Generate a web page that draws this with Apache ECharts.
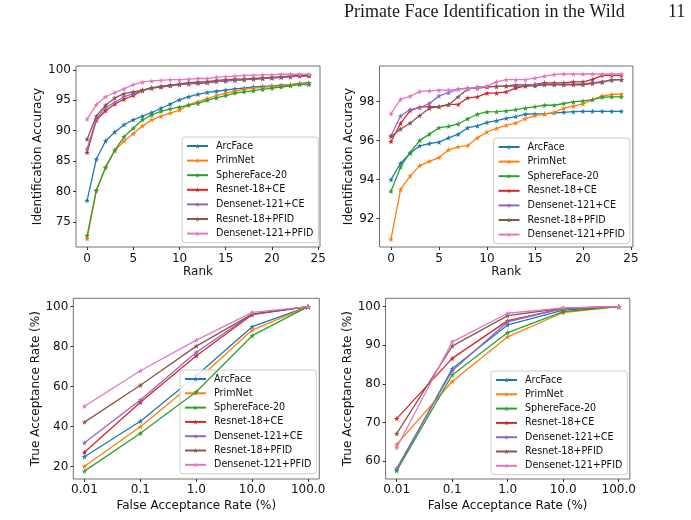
<!DOCTYPE html>
<html>
<head>
<meta charset="utf-8">
<script src="https://cdn.jsdelivr.net/npm/echarts@6/dist/echarts.min.js"></script>
<style>
  html, body { margin: 0; padding: 0; background: #fff; }
  #myChart { width: 691px; height: 520px; }
</style>
</head>
<body>
<div id="myChart"></div>
<script>
// ---- data ----
var methods = ['ArcFace', 'PrimNet', 'SphereFace-20', 'Resnet-18+CE', 'Densenet-121+CE', 'Resnet-18+PFID', 'Densenet-121+PFID'];
var colors = ['#1f77b4', '#ff7f0e', '#2ca02c', '#d62728', '#9467bd', '#8c564b', '#e377c2'];

var ranks = [0, 1, 2, 3, 4, 5, 6, 7, 8, 9, 10, 11, 12, 13, 14, 15, 16, 17, 18, 19, 20, 21, 22, 23, 24];
var farValues = [0.01, 0.1, 1, 10, 100];

// top-left: identification accuracy vs rank (one row per method, same order as methods)
var accLeft = [
  [78.5, 85.3, 88.3, 89.8, 91.0, 91.8, 92.4, 93.0, 93.7, 94.4, 95.1, 95.6, 96.0, 96.3, 96.5, 96.7, 96.9, 97.0, 97.2, 97.3, 97.4, 97.5, 97.6, 97.8, 97.9],
  [72.2, 80.1, 83.9, 86.7, 88.3, 89.5, 90.8, 91.8, 92.4, 92.9, 93.4, 94.3, 94.8, 95.3, 95.8, 96.2, 96.5, 96.8, 97.0, 97.1, 97.3, 97.4, 97.6, 97.7, 97.7],
  [72.7, 80.2, 84.0, 86.8, 89.0, 90.4, 91.8, 92.6, 93.2, 93.6, 93.9, 94.2, 94.5, 95.0, 95.4, 95.8, 96.2, 96.4, 96.6, 96.8, 97.0, 97.2, 97.4, 97.6, 97.6],
  [86.4, 91.7, 93.3, 94.4, 95.2, 95.8, 96.6, 97.0, 97.2, 97.4, 97.6, 97.7, 97.8, 97.9, 98.1, 98.2, 98.3, 98.4, 98.5, 98.6, 98.7, 98.8, 98.9, 99.0, 99.0],
  [87.0, 91.9, 93.8, 94.7, 95.6, 96.1, 96.7, 97.0, 97.3, 97.5, 97.6, 97.8, 97.9, 98.0, 98.1, 98.2, 98.3, 98.4, 98.5, 98.6, 98.7, 98.8, 98.9, 99.0, 99.1],
  [88.6, 92.4, 94.2, 95.4, 96.1, 96.4, 96.7, 97.1, 97.3, 97.5, 97.7, 97.9, 98.0, 98.1, 98.3, 98.4, 98.5, 98.5, 98.6, 98.7, 98.8, 98.9, 99.0, 99.1, 99.1],
  [91.9, 94.3, 95.6, 96.3, 96.9, 97.6, 98.0, 98.2, 98.3, 98.4, 98.4, 98.5, 98.6, 98.6, 98.8, 98.9, 99.0, 99.1, 99.1, 99.2, 99.2, 99.3, 99.3, 99.3, 99.3]
];

// top-right: identification accuracy vs rank
var accRight = [
  [94.0, 94.84, 95.35, 95.73, 95.85, 95.92, 96.14, 96.33, 96.66, 96.75, 96.93, 97.02, 97.14, 97.23, 97.35, 97.37, 97.37, 97.42, 97.45, 97.48, 97.5, 97.5, 97.5, 97.5, 97.5],
  [90.95, 93.5, 94.19, 94.72, 94.94, 95.13, 95.53, 95.68, 95.75, 96.14, 96.44, 96.62, 96.78, 96.9, 97.12, 97.28, 97.35, 97.45, 97.66, 97.76, 97.88, 98.09, 98.29, 98.36, 98.38],
  [93.41, 94.65, 95.39, 96.01, 96.33, 96.66, 96.73, 96.85, 97.12, 97.35, 97.47, 97.48, 97.52, 97.59, 97.66, 97.74, 97.81, 97.81, 97.9, 97.98, 98.03, 98.1, 98.22, 98.24, 98.24],
  [95.95, 96.88, 97.54, 97.71, 97.74, 97.74, 97.85, 97.85, 98.19, 98.24, 98.43, 98.43, 98.5, 98.69, 98.79, 98.88, 98.96, 98.96, 98.96, 99.01, 99.01, 99.13, 99.34, 99.34, 99.34],
  [96.25, 97.26, 97.59, 97.69, 97.9, 98.29, 98.45, 98.64, 98.69, 98.67, 98.74, 98.79, 98.8, 98.86, 98.86, 98.86, 98.89, 98.89, 98.89, 98.89, 98.91, 98.96, 99.03, 99.08, 99.12],
  [96.21, 96.59, 96.9, 97.28, 97.66, 97.73, 97.83, 98.24, 98.64, 98.74, 98.76, 98.76, 98.8, 98.79, 98.79, 98.8, 98.86, 98.86, 98.86, 98.86, 98.86, 98.93, 98.98, 99.12, 99.12],
  [97.38, 98.12, 98.27, 98.52, 98.55, 98.58, 98.58, 98.62, 98.67, 98.71, 98.79, 99.01, 99.12, 99.12, 99.12, 99.2, 99.3, 99.39, 99.41, 99.41, 99.41, 99.41, 99.41, 99.41, 99.41]
];

// bottom-left: true acceptance rate vs false acceptance rate
var tarLeft = [
  [25.0, 42.7, 65.5, 90.0, 100],
  [20.2, 40.0, 63.0, 88.3, 100],
  [17.8, 36.7, 57.5, 85.5, 100],
  [27.2, 52.2, 75.5, 96.0, 100],
  [32.0, 53.3, 77.2, 96.3, 100],
  [42.3, 60.7, 80.3, 96.3, 100],
  [50.2, 68.0, 83.3, 97.2, 100]
];

// bottom-right
var tarRight = [
  [57.8, 83.9, 95.3, 99.1, 100],
  [64.3, 80.6, 92.2, 98.5, 100],
  [57.5, 82.3, 93.3, 98.7, 100],
  [71.0, 86.6, 96.4, 99.5, 100],
  [58.1, 83.4, 96.1, 99.6, 100],
  [67.1, 89.8, 97.7, 99.6, 100],
  [63.5, 90.9, 98.3, 99.7, 100]
];

var rankTicks = [0, 5, 10, 15, 20, 25];
var accLeftTicks = [75, 80, 85, 90, 95, 100];
var accRightTicks = [92, 94, 96, 98];
var tarLeftTicks = [20, 40, 60, 80, 100];
var tarRightTicks = [60, 70, 80, 90, 100];

// ---- styling helpers ----
var FONT = 'DejaVu Sans';
var TXT = '#111';
var STAR = 'path://M0,-10L2.35,-3.24L9.51,-3.09L3.8,1.24L5.88,8.09L0,4L-5.88,8.09L-3.8,1.24L-9.51,-3.09L-2.35,-3.24Z';

function valueAxis(gridIndex, min, max, ticks, name, gap, vertical) {
  return {
    type: 'value', gridIndex: gridIndex, min: min, max: max,
    name: name, nameLocation: 'middle', nameGap: gap,
    nameTextStyle: { fontFamily: FONT, fontSize: 12, color: TXT },
    axisLine: { show: false, onZero: false },
    axisTick: { show: true, length: 3, customValues: ticks, lineStyle: { color: '#333' } },
    axisLabel: { customValues: ticks, fontFamily: FONT, fontSize: 12, color: TXT, margin: vertical ? 5 : 5.5 },
    splitLine: { show: false }
  };
}

function logAxis(gridIndex, name) {
  return {
    type: 'log', logBase: 10, gridIndex: gridIndex,
    min: Math.pow(10, -2.2), max: Math.pow(10, 2.2),
    name: name, nameLocation: 'middle', nameGap: 20.5,
    nameTextStyle: { fontFamily: FONT, fontSize: 12, color: TXT },
    axisLine: { show: false, onZero: false },
    axisTick: { show: true, length: 3, lineStyle: { color: '#333' } },
    axisLabel: {
      fontFamily: FONT, fontSize: 12, color: TXT, margin: 5,
      showMinLabel: false, showMaxLabel: false,
      formatter: function (v) {
        var e = Math.log10(v);
        if (Math.abs(e - Math.round(e)) > 1e-6) return '';
        return v >= 1 ? v.toFixed(1) : String(+v.toPrecision(1));
      }
    },
    splitLine: { show: false }
  };
}

function legendAt(left, top, gap) {
  return {
    orient: 'vertical', left: left, top: top,
    data: methods,
    itemWidth: 21, itemHeight: 6, itemGap: gap,
    padding: [3, 5, 3, 4],
    backgroundColor: 'rgba(255,255,255,0.85)',
    borderColor: '#cccccc', borderWidth: 1, borderRadius: 3,
    selectedMode: false,
    textStyle: { fontFamily: FONT, fontSize: 9.6, lineHeight: 12, color: TXT, padding: [0, 0, 0, 3] }
  };
}

var gridStyle = { show: true, borderColor: '#707070', borderWidth: 1, backgroundColor: 'transparent' };

var grids = [
  Object.assign({ left: 76, top: 66, width: 244, height: 181 }, gridStyle),
  Object.assign({ left: 379.5, top: 66, width: 253.4, height: 181 }, gridStyle),
  Object.assign({ left: 73.3, top: 298.3, width: 246, height: 180.7 }, gridStyle),
  Object.assign({ left: 385.6, top: 298.3, width: 244.2, height: 180.7 }, gridStyle)
];

var series = [];
function addPanel(axisIndex, xs, rows) {
  rows.forEach(function (row, i) {
    series.push({
      name: methods[i], type: 'line',
      xAxisIndex: axisIndex, yAxisIndex: axisIndex,
      data: row.map(function (y, k) { return [xs[k], y]; }),
      symbol: STAR, symbolSize: 5.5, showSymbol: true,
      lineStyle: { width: 1.3, color: colors[i] },
      itemStyle: { color: colors[i] },
      z: 2 + i
    });
  });
}
addPanel(0, ranks, accLeft);
addPanel(1, ranks, accRight);
addPanel(2, farValues, tarLeft);
addPanel(3, farValues, tarRight);

var option = {
  animation: false,
  backgroundColor: '#ffffff',
  grid: grids,
  xAxis: [
    valueAxis(0, -1.2, 25.2, rankTicks, 'Rank', 18, false),
    valueAxis(1, -1.2, 25.2, rankTicks, 'Rank', 18, false),
    logAxis(2, 'False Acceptance Rate (%)'),
    logAxis(3, 'False Acceptance Rate (%)')
  ],
  yAxis: [
    valueAxis(0, 70.85, 100.66, accLeftTicks, 'Identification Accuracy', 32, true),
    valueAxis(1, 90.55, 99.82, accRightTicks, 'Identification Accuracy', 24, true),
    valueAxis(2, 13.85, 104.2, tarLeftTicks, 'True Acceptance Rate (%)', 31, true),
    valueAxis(3, 55.34, 102.18, tarRightTicks, 'True Acceptance Rate (%)', 31, true)
  ],
  legend: [
    legendAt(182, 137, 2.6),
    legendAt(493.5, 138, 2.6),
    legendAt(180, 370, 2.3),
    legendAt(491, 371, 2.3)
  ],
  graphic: [
    { type: 'text', left: 344, top: 3, style: { text: 'Primate Face Identification in the Wild', font: '18px "Liberation Serif"', fill: '#1a1a1a' } },
    { type: 'text', left: 668, top: 3, style: { text: '11', font: '18px "Liberation Serif"', fill: '#1a1a1a' } }
  ],
  series: series
};

var myChart = echarts.init(document.getElementById('myChart'), null, { renderer: 'canvas' });
myChart.setOption(option);
</script>
</body>
</html>
